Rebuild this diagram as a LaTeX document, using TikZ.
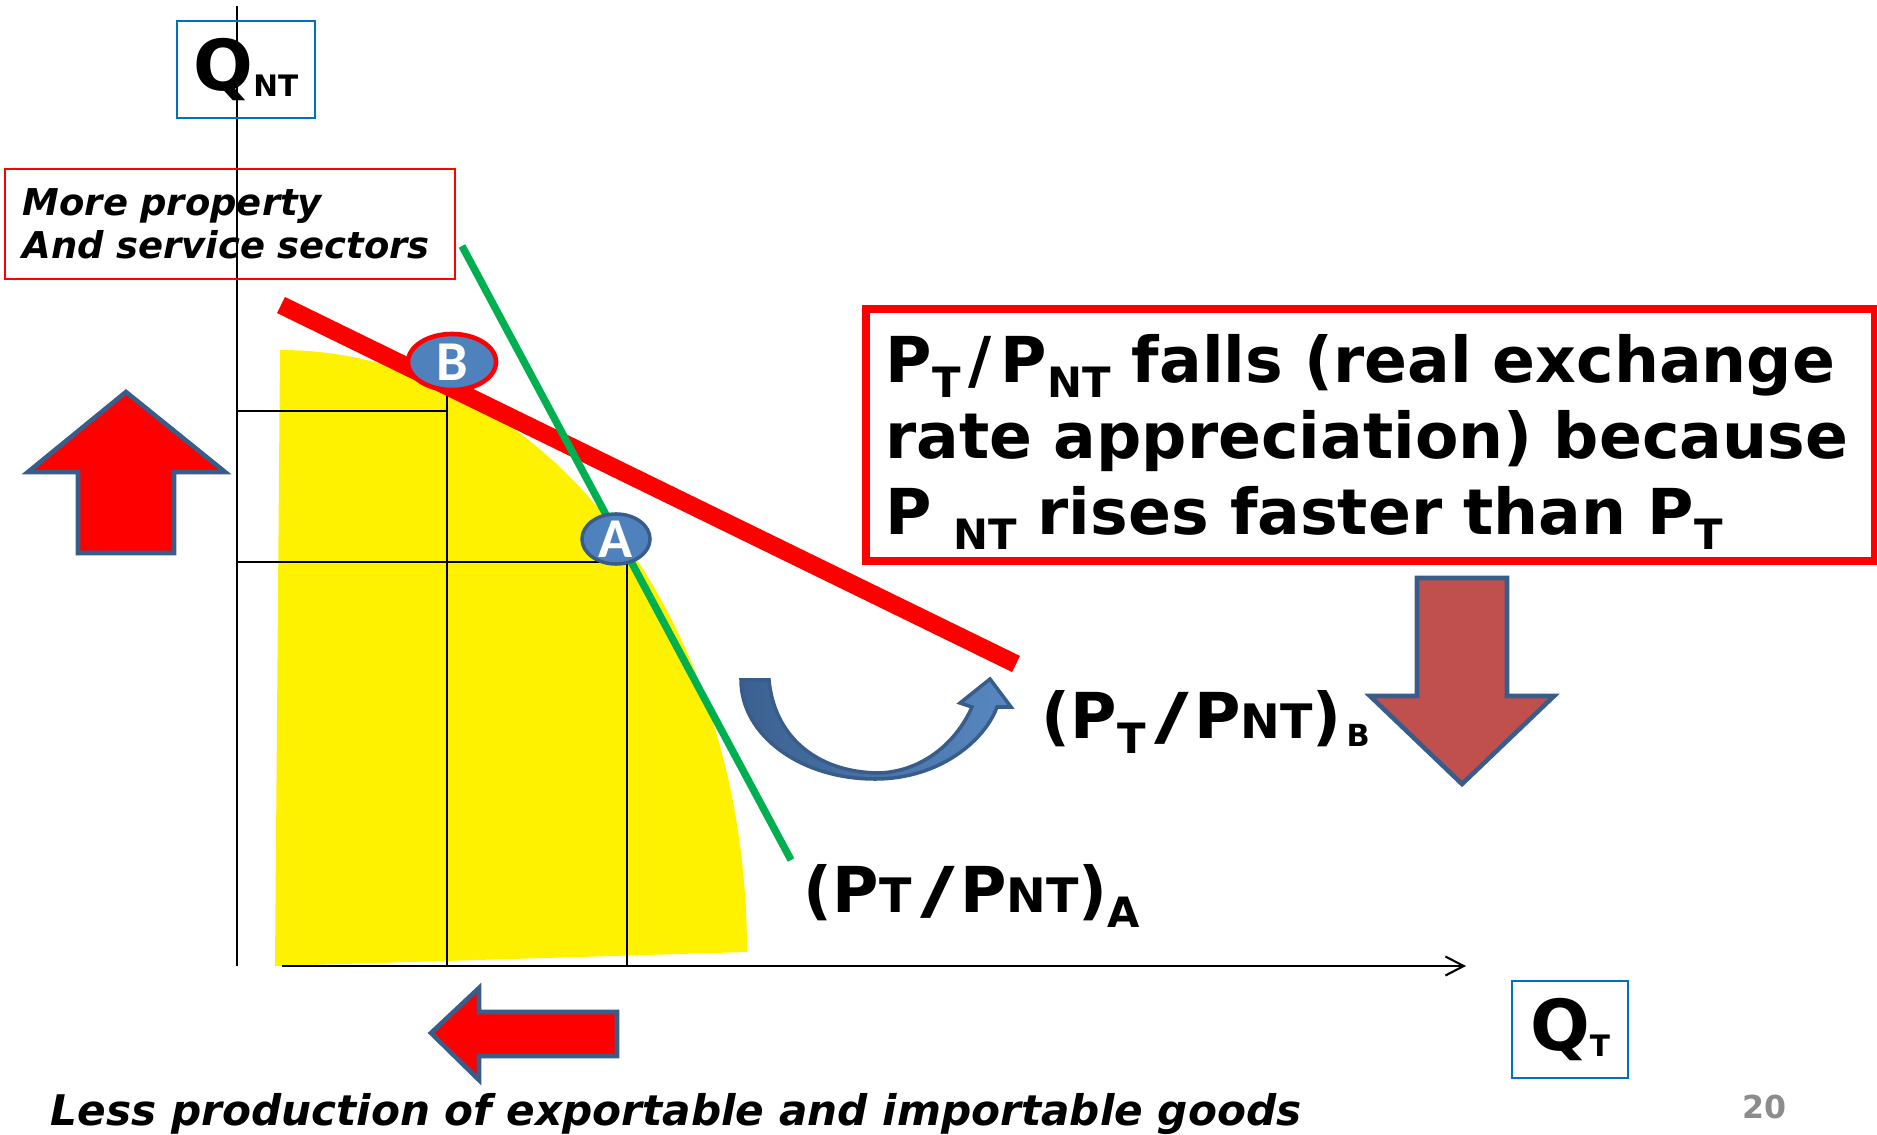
\documentclass[tikz,border=0pt]{standalone}
\usepackage{fontspec}
\setmainfont{DejaVu Sans}
\newfontfamily\calfont{Carlito}
\usetikzlibrary{arrows.meta,shapes.geometric}
\definecolor{qblue}{HTML}{0070C0}
\definecolor{shapeblue}{HTML}{385D8A}
\definecolor{ptblue}{HTML}{4F81BD}
\definecolor{fallred}{HTML}{C0504D}
\definecolor{slopegreen}{HTML}{00B050}
\definecolor{pagegrey}{HTML}{8C8C8C}
\newcommand{\qsub}[1]{\raisebox{-0.09em}{\scalebox{0.42}{#1}}}
\newcommand{\lowsub}[1]{\raisebox{-0.24em}[0pt][0pt]{\scalebox{0.66}{#1}}}
\newcommand{\smallcaps}[1]{\scalebox{0.75}{#1}}
\newcommand{\boxslash}{\kern0.12em/\kern0.15em}
\newcommand{\wslash}{\kern0.14em\scalebox{1.5}[1]{/}\kern0.08em}
\tikzset{
qbox/.style={draw=qblue, line width=0.6pt, minimum height=0.97cm, inner sep=0pt, font=\bfseries\fontsize{20}{24}\selectfont},
notebox/.style={draw=red, line width=0.6pt, align=left, inner xsep=0.18cm, font=\bfseries\itshape\fontsize{10.5}{12.2}\selectfont},
fallbox/.style={draw=red, line width=2.3pt, align=left, inner xsep=0.2cm, font=\bfseries\fontsize{18}{21.6}\selectfont},
fatarrow/.style={fill=red, draw=shapeblue, line width=1.3pt, line join=miter},
uturn/.style={left color=shapeblue!90!ptblue, right color=ptblue!95!white, draw=shapeblue, line width=1pt},
ptnode/.style={ellipse, fill=ptblue, inner sep=-2pt, text=white, font=\calfont\bfseries\fontsize{16}{16}\selectfont},
slopelabel/.style={anchor=base west, inner sep=0pt, font=\bfseries\fontsize{18}{20}\selectfont},
axisline/.style={line width=0.6pt},
dropline/.style={line width=0.6pt}
}
\begin{document}
\begin{tikzpicture}[x=0.01cm,y=-0.01cm]
\useasboundingbox (0,0) rectangle (1877,1134);
\coordinate (ytop) at (237,6);
\coordinate (O) at (237,966);
\coordinate (xstart) at (282,966);
\coordinate (xend) at (1466,966);

\fill[yellow] (275,966) -- (280,350) .. controls (538,350) and (747,610) .. (747,952) -- cycle;
\draw[axisline] (ytop) -- (O);
\draw[axisline, -{Straight Barb[length=5.2pt,width=5.4pt]}] (xstart) -- (xend);
\foreach \px/\py/\ptop in {447/411/396, 627/562/562}
  \draw[dropline] (237,\py) -- (\px,\py) (\px,\ptop) -- (\px,966);

\draw[red, line width=5.1pt] (281,305) -- (1016,664);
\draw[slopegreen, line width=2.1pt] (462,246) -- (791,860);
\node[ptnode, draw=red, line width=1.3pt, minimum width=0.88cm, minimum height=0.56cm] (B) at (452,362) {B};
\node[ptnode, draw=shapeblue, line width=1pt, minimum width=0.68cm, minimum height=0.5cm] (A) at (616,539) {A};

\node[qbox, minimum width=1.38cm] (qnt) at (246,69.5) {Q\qsub{NT}};
\node[qbox, minimum width=1.16cm] (qt) at (1570,1029.5) {Q\qsub{T}};
\node[notebox, minimum height=1.1cm, text width=4.14cm] (sectors) at (230,224) {More property\\And service sectors};
\node[fallbox, minimum height=2.52cm, text width=9.69cm] (falls) at (1370.5,435)
  {P\lowsub{T}\boxslash P\lowsub{NT} falls (real exchange\\rate appreciation) because\\P \lowsub{NT} rises faster than P\lowsub{T}};

\node[slopelabel] (slopeB) at (1041,738) {(P\lowsub{T}\wslash P\smallcaps{NT})\kern0.08em\raisebox{-0.14em}{\scalebox{0.48}{B}}};
\node[slopelabel] (slopeA) at (803,912) {(P\smallcaps{T}\wslash P\smallcaps{NT})\lowsub{A}};

\draw[fatarrow] (126,392) -- (225,472) -- (174,472) -- (174,553) -- (78,553) -- (78,472) -- (28,472) -- cycle;
\draw[fatarrow] (431,1033) -- (479,988) -- (479,1012) -- (617,1012) -- (617,1056) -- (479,1056) -- (479,1080) -- cycle;
\draw[fatarrow, fill=fallred] (1462,784) -- (1554,696) -- (1507,696) -- (1507,578) -- (1417,578) -- (1417,696) -- (1370,696) -- cycle;
\draw[uturn] (741,680) .. controls (741,735) and (800,779) .. (875,779) .. controls (940,779) and (985,740) .. (997,707)
  -- (1011,707) -- (990,679) -- (960,703) -- (972,707) .. controls (955,745) and (920,772) .. (878,773)
  .. controls (815,772) and (774,735) .. (769,680) -- cycle;

\node[anchor=base west, inner sep=0pt, font=\bfseries\itshape\fontsize{12}{14}\selectfont] (caption) at (50,1125) {Less production of exportable and importable goods};
\node[anchor=base, inner sep=0pt, text=pagegrey, font=\bfseries\fontsize{9}{9}\selectfont] (pageno) at (1764,1118) {20};
\end{tikzpicture}
\end{document}
